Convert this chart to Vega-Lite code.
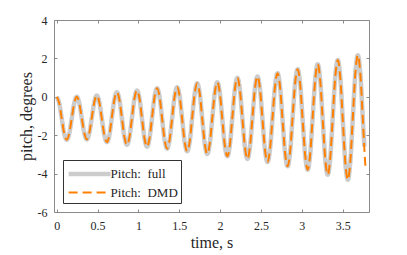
{
  "$schema": "https://vega.github.io/schema/vega-lite/v6.json",
  "width": 315,
  "height": 192,
  "autosize": {"type": "none"},
  "padding": {"left": 54, "top": 20, "right": 38, "bottom": 43},
  "background": "white",
  "config": {
    "font": "Liberation Serif",
    "view": {"stroke": "#8a8a8a", "strokeWidth": 1},
    "axis": {
      "grid": false,
      "domain": false,
      "tickColor": "#8a8a8a",
      "tickSize": -3,
      "labelColor": "#262626",
      "titleColor": "#262626",
      "labelFont": "Liberation Serif",
      "titleFont": "Liberation Serif",
      "labelFontSize": 12,
      "titleFontSize": 16,
      "titleFontWeight": "normal"
    }
  },
  "data": {
    "values": [
      {"t": 0, "full": 0, "dmd": 0},
      {"t": 0.0307, "full": -0.33, "dmd": -0.33},
      {"t": 0.0614, "full": -1.12, "dmd": -1.12},
      {"t": 0.0921, "full": -1.91, "dmd": -1.91},
      {"t": 0.1229, "full": -2.24, "dmd": -2.24},
      {"t": 0.1536, "full": -1.91, "dmd": -1.91},
      {"t": 0.1843, "full": -1.12, "dmd": -1.12},
      {"t": 0.215, "full": -0.33, "dmd": -0.33},
      {"t": 0.2457, "full": 0.0, "dmd": 0.0},
      {"t": 0.2764, "full": -0.33, "dmd": -0.33},
      {"t": 0.3071, "full": -1.11, "dmd": -1.11},
      {"t": 0.3378, "full": -1.89, "dmd": -1.89},
      {"t": 0.3686, "full": -2.22, "dmd": -2.22},
      {"t": 0.3993, "full": -1.88, "dmd": -1.88},
      {"t": 0.43, "full": -1.08, "dmd": -1.08},
      {"t": 0.4607, "full": -0.27, "dmd": -0.27},
      {"t": 0.4914, "full": 0.07, "dmd": 0.07},
      {"t": 0.5221, "full": -0.29, "dmd": -0.29},
      {"t": 0.5528, "full": -1.15, "dmd": -1.15},
      {"t": 0.5835, "full": -2.0, "dmd": -2.0},
      {"t": 0.6143, "full": -2.36, "dmd": -2.36},
      {"t": 0.645, "full": -1.98, "dmd": -1.98},
      {"t": 0.6757, "full": -1.06, "dmd": -1.06},
      {"t": 0.7064, "full": -0.14, "dmd": -0.14},
      {"t": 0.7371, "full": 0.24, "dmd": 0.24},
      {"t": 0.7678, "full": -0.16, "dmd": -0.16},
      {"t": 0.7985, "full": -1.13, "dmd": -1.13},
      {"t": 0.8292, "full": -2.1, "dmd": -2.1},
      {"t": 0.86, "full": -2.5, "dmd": -2.5},
      {"t": 0.8907, "full": -2.09, "dmd": -2.09},
      {"t": 0.9214, "full": -1.09, "dmd": -1.09},
      {"t": 0.9521, "full": -0.08, "dmd": -0.08},
      {"t": 0.9828, "full": 0.33, "dmd": 0.33},
      {"t": 1.0135, "full": -0.1, "dmd": -0.1},
      {"t": 1.0442, "full": -1.14, "dmd": -1.14},
      {"t": 1.0749, "full": -2.17, "dmd": -2.17},
      {"t": 1.1057, "full": -2.6, "dmd": -2.6},
      {"t": 1.1364, "full": -2.15, "dmd": -2.15},
      {"t": 1.1671, "full": -1.08, "dmd": -1.08},
      {"t": 1.1978, "full": 0.0, "dmd": 0.0},
      {"t": 1.2285, "full": 0.45, "dmd": 0.45},
      {"t": 1.2592, "full": -0.01, "dmd": -0.01},
      {"t": 1.2899, "full": -1.13, "dmd": -1.13},
      {"t": 1.3206, "full": -2.24, "dmd": -2.24},
      {"t": 1.3514, "full": -2.7, "dmd": -2.7},
      {"t": 1.3821, "full": -2.23, "dmd": -2.23},
      {"t": 1.4128, "full": -1.1, "dmd": -1.1},
      {"t": 1.4435, "full": 0.03, "dmd": 0.03},
      {"t": 1.4742, "full": 0.5, "dmd": 0.5},
      {"t": 1.5049, "full": 0.01, "dmd": 0.01},
      {"t": 1.5356, "full": -1.17, "dmd": -1.17},
      {"t": 1.5663, "full": -2.35, "dmd": -2.35},
      {"t": 1.5971, "full": -2.84, "dmd": -2.84},
      {"t": 1.6278, "full": -2.32, "dmd": -2.32},
      {"t": 1.6585, "full": -1.07, "dmd": -1.07},
      {"t": 1.6892, "full": 0.18, "dmd": 0.18},
      {"t": 1.7199, "full": 0.7, "dmd": 0.7},
      {"t": 1.7506, "full": 0.16, "dmd": 0.16},
      {"t": 1.7813, "full": -1.14, "dmd": -1.14},
      {"t": 1.812, "full": -2.44, "dmd": -2.44},
      {"t": 1.8428, "full": -2.98, "dmd": -2.98},
      {"t": 1.8735, "full": -2.43, "dmd": -2.43},
      {"t": 1.9042, "full": -1.11, "dmd": -1.11},
      {"t": 1.9349, "full": 0.21, "dmd": 0.21},
      {"t": 1.9656, "full": 0.76, "dmd": 0.76},
      {"t": 1.9963, "full": 0.2, "dmd": 0.2},
      {"t": 2.027, "full": -1.17, "dmd": -1.17},
      {"t": 2.0577, "full": -2.54, "dmd": -2.54},
      {"t": 2.0885, "full": -3.1, "dmd": -3.1},
      {"t": 2.1192, "full": -2.5, "dmd": -2.5},
      {"t": 2.1499, "full": -1.06, "dmd": -1.06},
      {"t": 2.1806, "full": 0.39, "dmd": 0.39},
      {"t": 2.2113, "full": 0.99, "dmd": 0.99},
      {"t": 2.242, "full": 0.37, "dmd": 0.37},
      {"t": 2.2727, "full": -1.13, "dmd": -1.13},
      {"t": 2.3034, "full": -2.62, "dmd": -2.62},
      {"t": 2.3342, "full": -3.24, "dmd": -3.24},
      {"t": 2.3649, "full": -2.61, "dmd": -2.61},
      {"t": 2.3956, "full": -1.09, "dmd": -1.09},
      {"t": 2.4263, "full": 0.43, "dmd": 0.43},
      {"t": 2.457, "full": 1.06, "dmd": 1.06},
      {"t": 2.4877, "full": 0.41, "dmd": 0.41},
      {"t": 2.5184, "full": -1.17, "dmd": -1.17},
      {"t": 2.5491, "full": -2.75, "dmd": -2.75},
      {"t": 2.5799, "full": -3.4, "dmd": -3.4},
      {"t": 2.6106, "full": -2.72, "dmd": -2.72},
      {"t": 2.6413, "full": -1.09, "dmd": -1.09},
      {"t": 2.672, "full": 0.55, "dmd": 0.55},
      {"t": 2.7027, "full": 1.23, "dmd": 1.23},
      {"t": 2.7334, "full": 0.52, "dmd": 0.52},
      {"t": 2.7641, "full": -1.2, "dmd": -1.2},
      {"t": 2.7948, "full": -2.91, "dmd": -2.91},
      {"t": 2.8256, "full": -3.62, "dmd": -3.62},
      {"t": 2.8563, "full": -2.88, "dmd": -2.88},
      {"t": 2.887, "full": -1.09, "dmd": -1.09},
      {"t": 2.9177, "full": 0.7, "dmd": 0.7},
      {"t": 2.9484, "full": 1.44, "dmd": 1.44},
      {"t": 2.9791, "full": 0.67, "dmd": 0.67},
      {"t": 3.0098, "full": -1.18, "dmd": -1.18},
      {"t": 3.0405, "full": -3.03, "dmd": -3.03},
      {"t": 3.0713, "full": -3.8, "dmd": -3.8},
      {"t": 3.102, "full": -2.99, "dmd": -2.99},
      {"t": 3.1327, "full": -1.05, "dmd": -1.05},
      {"t": 3.1634, "full": 0.89, "dmd": 0.89},
      {"t": 3.1941, "full": 1.7, "dmd": 1.7},
      {"t": 3.2248, "full": 0.86, "dmd": 0.86},
      {"t": 3.2555, "full": -1.18, "dmd": -1.18},
      {"t": 3.2862, "full": -3.22, "dmd": -3.22},
      {"t": 3.317, "full": -4.06, "dmd": -4.06},
      {"t": 3.3477, "full": -3.18, "dmd": -3.18},
      {"t": 3.3784, "full": -1.07, "dmd": -1.07},
      {"t": 3.4091, "full": 1.04, "dmd": 1.04},
      {"t": 3.4398, "full": 1.92, "dmd": 1.92},
      {"t": 3.4705, "full": 1.01, "dmd": 1.01},
      {"t": 3.5012, "full": -1.2, "dmd": -1.2},
      {"t": 3.5319, "full": -3.41, "dmd": -3.41},
      {"t": 3.5627, "full": -4.32, "dmd": -4.32},
      {"t": 3.5934, "full": -3.37, "dmd": -3.37},
      {"t": 3.6241, "full": -1.08, "dmd": -1.08},
      {"t": 3.6548, "full": 1.22, "dmd": 1.22},
      {"t": 3.6855, "full": 2.17, "dmd": 2.17},
      {"t": 3.7162, "full": 1.19, "dmd": 1.19},
      {"t": 3.7469, "full": -1.19, "dmd": -1.19},
      {"t": 3.765, "full": -2.6, "dmd": -2.69},
      {"t": 3.778, "full": null, "dmd": -3.65}
    ]
  },
  "transform": [{"fold": ["full", "dmd"], "as": ["series", "pitch"]}],
  "layer": [
    {
      "mark": {"type": "line", "interpolate": "monotone", "strokeCap": "butt"},
      "encoding": {
        "x": {
          "field": "t", "type": "quantitative",
          "scale": {"domain": [-0.033, 3.822], "nice": false, "zero": false},
          "axis": {"orient": "bottom", "title": "time, s", "values": [0, 0.5, 1, 1.5, 2, 2.5, 3, 3.5], "labelExpr": "'' + datum.value", "labelPadding": 11, "titlePadding": 3, "labelFlush": false}
        },
        "y": {
          "field": "pitch", "type": "quantitative",
          "scale": {"domain": [-6, 4], "nice": false, "zero": false},
          "axis": {"orient": "left", "title": "pitch, degrees", "values": [-6, -4, -2, 0, 2, 4], "labelExpr": "'' + datum.value", "labelPadding": 10, "titlePadding": 3, "labelFlush": false}
        },
        "color": {
          "field": "series", "type": "nominal",
          "scale": {"domain": ["full", "dmd"], "range": ["#cccccc", "#ff8000"]},
          "legend": {
            "title": null,
            "orient": "bottom-left",
            "offset": 9,
            "symbolType": "M-2.5,0H2.5",
            "symbolSize": 282,
            "symbolOffset": 12.6,
            "labelFont": "Liberation Serif",
            "labelFontSize": 13,
            "labelColor": "#262626",
            "labelOffset": 10,
            "rowPadding": 0,
            "strokeColor": "#333333",
            "fillColor": "white",
            "padding": 3,
            "labelExpr": "datum.label == 'full' ? 'Pitch:\u00a0 full' : 'Pitch:\u00a0 DMD'"
          }
        },
        "strokeDash": {
          "field": "series", "type": "nominal",
          "scale": {"domain": ["full", "dmd"], "range": [[1, 0], [9, 5]]},
          "legend": {"title": null}
        },
        "strokeWidth": {
          "field": "series", "type": "nominal",
          "scale": {"domain": ["full", "dmd"], "range": [4.5, 2]},
          "legend": {"title": null}
        }
      }
    },
    {
      "mark": {"type": "line", "opacity": 0},
      "encoding": {
        "x": {
          "field": "t", "type": "quantitative",
          "axis": {"orient": "top", "title": null, "labels": false, "values": [0, 0.5, 1, 1.5, 2, 2.5, 3, 3.5]}
        },
        "y": {
          "field": "pitch", "type": "quantitative",
          "axis": {"orient": "right", "title": null, "labels": false, "values": [-6, -4, -2, 0, 2, 4]}
        }
      }
    }
  ],
  "resolve": {"axis": {"x": "independent", "y": "independent"}}
}
